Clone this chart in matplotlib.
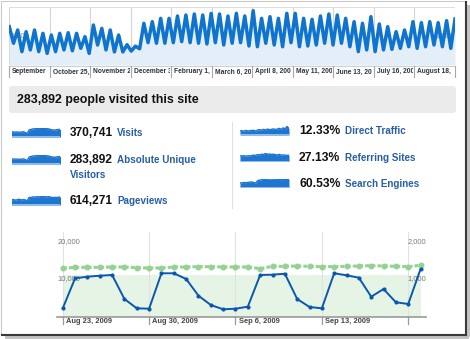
import numpy as np
import matplotlib
matplotlib.use("Agg")
import matplotlib.pyplot as plt
from matplotlib.patches import Rectangle, FancyBboxPatch

plt.rcParams['font.family'] = ['Liberation Sans', 'DejaVu Sans']
plt.rcParams['lines.scale_dashes'] = False

W, H = 470, 339

# year overview: weekly highs / lows, Sep 2008 - Sep 2009
year_visits = [1320, 750, 1207, 460, 1149, 520, 1207, 460, 1092, 400,
               1034, 460, 1092, 520, 1115, 490, 1092, 575, 977, 400,
               1379, 690, 1264, 520, 1207, 450, 1034,
               450, 700, 480, 650, 560,
               1437, 770, 1494, 750, 1609, 750, 1609, 770, 1690, 805,
               1724, 770, 1759, 750, 1724, 725, 1782, 770, 1759, 690,
               1690, 750, 1782, 770, 1690, 655, 1872, 630, 1609, 750,
               1667, 690, 1609, 630, 1782, 770, 1782, 630, 1609, 655,
               1575, 690, 1690, 750, 1759, 690, 1724, 750, 1609, 630,
               1494, 460, 1437, 520, 1667, 460, 1414, 520, 1322, 540,
               1149, 575, 1207, 630, 1494, 575, 1460, 630, 1494, 690,
               1460, 630, 1529, 575, 1586]
# labels as they show, cut off by the next column
year_labels = ["September", "October 25,", "November 2", "December 3",
               "February 1,", "March 6, 20", "April 8, 200", "May 11, 200",
               "June 13, 20", "July 16, 200", "August 18,"]

headline = "283,892 people visited this site"

left_values = ["370,741", "283,892", "614,271"]
left_names = ["Visits", "Absolute Unique", "Pageviews"]
right_values = ["12.33%", "27.13%", "60.53%"]
right_names = ["Direct Traffic", "Referring Sites", "Search Engines"]

spark_visits = [52, 50, 48, 50, 47, 49, 52, 45, 35, 70, 75, 80, 82, 84, 83, 86, 85, 84, 82, 80, 74, 70, 68, 72, 74, 76]
spark_unique = [50, 49, 47, 48, 46, 48, 50, 44, 34, 68, 74, 78, 80, 82, 82, 85, 84, 83, 80, 78, 72, 68, 66, 70, 72, 75]
spark_pageviews = [48, 52, 46, 50, 55, 47, 52, 48, 40, 72, 70, 78, 74, 80, 76, 82, 78, 80, 76, 80, 74, 70, 72, 70, 74, 78]
spark_direct = [40, 42, 38, 45, 40, 42, 44, 46, 38, 50, 52, 48, 55, 50, 58, 52, 55, 60, 54, 58, 65, 56, 70, 60, 85, 62]
spark_referring = [45, 44, 46, 42, 45, 44, 47, 50, 48, 55, 52, 58, 54, 68, 56, 60, 55, 58, 54, 52, 56, 50, 52, 50, 48, 50]
spark_search = [40, 42, 45, 43, 46, 48, 50, 45, 40, 62, 66, 70, 72, 75, 74, 78, 77, 76, 75, 74, 70, 72, 70, 73, 72, 74]

# month detail, Aug 23 - Sep 21 2009
month_blue = [217, 1013, 1056, 1082, 1101, 464, 217, 207, 1146, 1146,
              995, 552, 305, 191, 207, 260, 1101, 1109, 1135, 464,
              252, 217, 1146, 1093, 1029, 525, 729, 377, 332, 1260]
month_green = [12780, 13040, 13040, 13040, 13130, 13130, 12950, 12870, 12870, 13130,
               13130, 13220, 13220, 13130, 13130, 13130, 12690, 13310, 13310, 13400,
               13310, 13220, 13220, 13310, 13400, 13480, 13400, 13310, 13220, 13570]
band_level = 11000
month_ticks = [0, 7, 14, 21, 28]
month_labels = ["Aug 23, 2009", "Aug 30, 2009", "Sep 6, 2009", "Sep 13, 2009"]

fig = plt.figure(figsize=(W / 100, H / 100), dpi=100)
bg = fig.add_axes([0, 0, 1, 1])
bg.set_xlim(0, W)
bg.set_ylim(H, 0)
bg.axis('off')


def px_axes(x0, y0, x1, y1):
    return fig.add_axes([x0 / W, 1 - y1 / H, (x1 - x0) / W, (y1 - y0) / H])


# frame with shadow
bg.add_patch(Rectangle((1, 1), 464, 333, fill=False, ec='#c8c8c8', lw=0.75))
bg.add_patch(Rectangle((466.5, 5), 3, 332, color='#c4c4c4', lw=0))
bg.add_patch(Rectangle((5, 335.5), 464, 3, color='#c4c4c4', lw=0))
bg.plot([465.5, 465.5], [2, 335], color='#3a3a3a', lw=1.5)
bg.plot([2, 466], [334.5, 334.5], color='#3a3a3a', lw=1.5)

# year chart
ax_top = px_axes(9.3, 7, 455, 65)
x_year = np.linspace(0, 11, len(year_visits))
ax_top.fill_between(x_year, year_visits, color='#e3eef9', lw=0)
for i in range(12):
    ax_top.axvline(i, color='#d6d6d6', lw=0.8, zorder=0)
ax_top.axhline(2000, color='#dddddd', lw=0.8)
ax_top.text(0.03, 1000, "1,000", fontsize=5.5, color='#8a8a8a', va='center', zorder=1)
ax_top.text(10.97, 1000, "1,000", fontsize=5.5, color='#8a8a8a', va='center', ha='right', zorder=1)
ax_top.plot(x_year, year_visits, color='#0f74cf', lw=2.5, solid_joinstyle='round', zorder=2)
ax_top.set_xlim(0, 11)
ax_top.set_ylim(0, 2000)
ax_top.axis('off')

xt = ax_top.get_xaxis_transform()
ax_top.plot([0, 11], [-0.02, -0.02], transform=xt, color='#d0d0d0', lw=0.8, clip_on=False)
for i, lab in enumerate(year_labels):
    ax_top.plot([i, i], [-0.21, -0.02], transform=xt, color='#a8a8a8', lw=0.8, clip_on=False)
    t = ax_top.text(i + 0.07, -0.12, lab, transform=xt, fontsize=4.8, fontweight='bold',
                    color='#333333', va='center', clip_on=True)
    t.set_clip_path(Rectangle((i, -0.3), 0.97, 0.3, transform=xt))
ax_top.plot([11, 11], [-0.21, -0.02], transform=xt, color='#a8a8a8', lw=0.8, clip_on=False)

# headline box
bg.add_patch(FancyBboxPatch((9, 86), 447, 27, boxstyle='round,pad=0,rounding_size=3',
                            fc='#ebebeb', ec='none'))
bg.text(17, 100, headline, fontsize=8.9, fontweight='bold', color='#111111', va='center')


def spark(x0, y0, vals):
    ax = px_axes(x0, y0, x0 + 49, y0 + 9)
    xs = np.arange(len(vals))
    ax.fill_between(xs, vals, 0, color='#1f76d0', lw=0)
    ax.plot(xs, vals, color='#1f76d0', lw=1.0)
    ax.plot(xs, [0] * len(vals), color='#a9cbef', lw=1.2)
    ax.set_xlim(0, len(vals) - 1)
    ax.set_ylim(0, max(vals) + 3)
    ax.axis('off')


link = '#285ea8'
left_rows = [133, 160, 201]
for vals, y in zip([spark_visits, spark_unique, spark_pageviews], left_rows):
    spark(11.5, y - 5, vals)
for v, n, y in zip(left_values, left_names, left_rows):
    bg.text(70, y, v, fontsize=8.6, fontweight='bold', color='#111111', va='center')
    bg.text(117, y, n, fontsize=7.1, fontweight='bold', color=link, va='center')
bg.text(70, 175.5, "Visitors", fontsize=7.1, fontweight='bold', color=link, va='center')

bg.plot([232, 232], [122, 208], color='#e0e0e0', lw=0.8)

right_rows = [131.5, 158, 184]
for vals, y in zip([spark_direct, spark_referring, spark_search], right_rows):
    spark(240, y - 5.5, vals)
for v, n, y in zip(right_values, right_names, right_rows):
    bg.text(299, y, v, fontsize=8.7, fontweight='bold', color='#111111', va='center')
    bg.text(345, y, n, fontsize=7.1, fontweight='bold', color=link, va='center')

# month chart
ax_b = px_axes(56.7, 232, 426, 316.5)
days = np.arange(len(month_blue))
ax_b.set_xlim(-0.49, 29.44)
ax_b.set_ylim(0, 22414)
ax_b.axis('off')
ax_b.fill_between(days, 0, band_level, color='#e6f4e6', lw=0, zorder=0)
for d in month_ticks:
    ax_b.axvline(d, color='#e2e2e2', lw=0.8, zorder=0)
ax_b.plot(days, month_green, color='#92d392', lw=2.2, dashes=(3.0, 1.45),
          marker='o', ms=4.3, mec='none', zorder=2)
xb = ax_b.get_xaxis_transform()
yb = ax_b.get_yaxis_transform()
ax_b.plot([0, 1], [0, 0], transform=ax_b.transAxes, color='#9a9a9a', lw=1.2, clip_on=False)
for d in month_ticks:
    ax_b.plot([d, d], [-0.085, 0], transform=xb, color='#9a9a9a', lw=0.9, clip_on=False)
for d, lab in zip(month_ticks, month_labels):
    ax_b.text(d + 0.27, -0.055, lab, transform=xb, fontsize=5.4, fontweight='bold',
              color='#444444', va='center')
for v, lab in [(20000, "20,000"), (10000, "10,000")]:
    ax_b.text(0.002, v, lab, transform=yb, fontsize=5.4, color='#7a7a7a', va='center')

ax_b2 = ax_b.twinx()
ax_b2.set_ylim(0, 2241.4)
ax_b2.axis('off')
yb2 = ax_b2.get_yaxis_transform()
for v, lab in [(2000, "2,000"), (1000, "1,000")]:
    ax_b2.text(1.0, v, lab, transform=yb2, fontsize=5.4, color='#7a7a7a', va='center', ha='right')
ax_b2.plot(days, month_blue, color='#0b57b0', lw=1.4, marker='o', ms=3, mec='none', zorder=3)

fig.savefig("out.png", dpi=100)
